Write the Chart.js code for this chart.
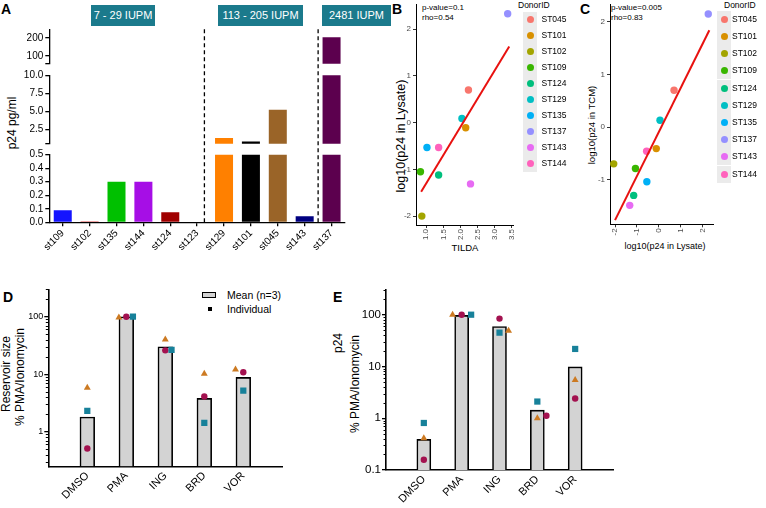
<!DOCTYPE html>
<html><head><meta charset="utf-8">
<script src="https://cdn.jsdelivr.net/npm/chart.js@4.4.1/dist/chart.umd.min.js"></script>
<style>
body{margin:0;background:#fff;}
#wrap{position:relative;width:766px;height:508px;overflow:hidden;background:#fff;font-family:"Liberation Sans",Arial,sans-serif;}
canvas{position:absolute;}
.t{position:absolute;white-space:nowrap;color:#000;line-height:1;}
.r{position:absolute;white-space:nowrap;color:#000;line-height:1;transform:translate(-50%,-50%) rotate(-90deg);}
.c{position:absolute;white-space:nowrap;color:#000;line-height:1;transform:translate(-50%,-50%);}
.box{position:absolute;background:#1b7a8c;color:#fff;font-size:11px;line-height:21px;height:21px;text-align:center;}
.pl{position:absolute;font-weight:bold;font-size:14px;line-height:1;}
</style></head><body><div id="wrap">
<div class="pl" style="left:1px;top:2px">A</div>
<div class="pl" style="left:392px;top:2px">B</div>
<div class="pl" style="left:580px;top:2px">C</div>
<div class="pl" style="left:3px;top:290px">D</div>
<div class="pl" style="left:333px;top:290px">E</div>
<div class="box" style="left:91px;top:5px;width:64px">7 - 29 IUPM</div>
<div class="box" style="left:218px;top:5px;width:85px">113 - 205 IUPM</div>
<div class="box" style="left:322px;top:5px;width:69px">2481 IUPM</div>
<div class="r" style="left:12px;top:123px;font-size:12px">p24 pg/ml</div>
<div class="t" style="left:422px;top:4px;font-size:8px">p-value=0.1</div>
<div class="t" style="left:422px;top:14px;font-size:8px">rho=0.54</div>
<div class="r" style="left:401px;top:136px;font-size:12.5px">log10(p24 in Lysate)</div>
<div class="c" style="left:465px;top:248px;font-size:9.5px">TILDA</div>
<div class="t" style="left:611px;top:4px;font-size:8px">p-value=0.005</div>
<div class="t" style="left:611px;top:14px;font-size:8px">rho=0.83</div>
<div class="r" style="left:592px;top:125px;font-size:9.5px">log10(p24 in TCM)</div>
<div class="c" style="left:665px;top:246px;font-size:9px">log10(p24 in Lysate)</div>
<div class="t" style="left:518px;top:1px;font-size:8.5px">DonorID</div>
<div class="t" style="left:724px;top:1px;font-size:8.5px">DonorID</div>
<div class="r" style="left:6px;top:374px;font-size:12px">Reservoir size</div>
<div class="r" style="left:20px;top:377px;font-size:12px">% PMA/Ionomycin</div>
<div class="r" style="left:338px;top:343px;font-size:12px">p24</div>
<div class="r" style="left:355px;top:384px;font-size:12px">% PMA/Ionomycin</div>
<div style="position:absolute;left:202px;top:292px;width:12px;height:4px;background:#d3d3d3;border:1.5px solid #000"></div>
<div class="t" style="left:227px;top:290px;font-size:10.5px">Mean (n=3)</div>
<div style="position:absolute;left:208px;top:307px;width:4px;height:4px;background:#000"></div>
<div class="t" style="left:227px;top:304px;font-size:10.5px">Individual</div>
</div>
<script>
// ---------- data ----------
const donorsA = ['st109','st102','st135','st144','st124','st123','st129','st101','st045','st143','st137'];
const p24A = [0.09,0.008,0.30,0.30,0.075,0,1.3,0.8,5.2,0.045,205];
const colorsA = ['#1414ff','#e04848','#00c000','#a60ee6','#a00000','#888888','#ff8000','#000000','#9a6428','#000080','#5c004e'];
const groupSeparators = [5.27, 9.5];
const aTicksLow = [0,0.1,0.2,0.3,0.4,0.5];
const aTicksMid = [0.5,2.5,5,7.5,10];
const aTicksTop = [55,100,200];

const donorIDs = ['ST045','ST101','ST102','ST109','ST124','ST129','ST135','ST137','ST143','ST144'];
const donorColors = ['#F8766D','#D89000','#A3A500','#39B600','#00BF7D','#00BFC4','#00B0F6','#9590FF','#E76BF3','#FF62BC'];
const tildaB  = [2.23,2.15,0.87,0.83,1.36,2.04,1.02,3.375,2.29,1.36];
const lysateB = [0.70,-0.11,-2.0,-1.05,-1.12,0.09,-0.53,2.33,-1.31,-0.53];
const fitBx = [0.85,3.42];
const fitBy = [-1.48,1.63];
const ticksBx = [1.0,1.5,2.0,2.5,3.0,3.5];
const ticksBy = [-2,-1,0,1,2];
const lysateC = [0.69,-0.12,-2.06,-1.07,-1.15,0.05,-0.55,2.25,-1.33,-0.56];
const tcmC    = [0.70,-0.41,-0.70,-0.79,-1.30,0.13,-1.04,2.15,-1.49,-0.46];
const fitCx = [-2.0,2.30];
const fitCy = [-1.77,1.84];
const ticksCx = [-2,-1,0,1,2];
const ticksCy = [-1,0,1,2];

const treatments = ['DMSO','PMA','ING','BRD','VOR'];
const meanD = [1.8,100,30,3.8,8.8];
const triD  = [5.8,97,40,10.2,12.1];
const circD = [0.51,100,26,4.1,10.8];
const sqD   = [2.3,100,26.6,1.42,5.2];
const dodgeTriD  = [0,-0.19,0,0,-0.2];
const dodgeCircD = [0,0,0,0,0];
const dodgeSqD   = [0,0.17,0.16,0,0];
const ticksDy = [1,10,100];
const meanE = [0.39,97,59,1.43,9.8];
const triE  = [0.41,100,49,1.0,5.5];
const circE = [0.158,100,84,1.12,2.4];
const sqE   = [0.81,100,45,2.1,21.8];
const dodgeTriE  = [0,-0.24,0.24,0,0];
const dodgeCircE = [0,0,0,0.24,0];
const dodgeSqE   = [0,0.25,0,0,0];
const ticksEy = [0.1,1,10,100];

// ---------- setup ----------
const FONT = '"Liberation Sans", Arial, sans-serif';
Chart.defaults.font.family = FONT;
Chart.defaults.color = '#000';
Chart.defaults.animation = false;
Chart.defaults.responsive = false;
Chart.defaults.plugins.legend.display = false;
Chart.defaults.plugins.tooltip.enabled = false;
const wrap = document.getElementById('wrap');
function mk(left, top, w, h){
  const c = document.createElement('canvas');
  c.width = w; c.height = h;
  c.style.left = left+'px'; c.style.top = top+'px';
  c.style.width = w+'px'; c.style.height = h+'px';
  wrap.appendChild(c);
  return c.getContext('2d');
}
const zeroPad = s => { s.paddingLeft = 0; s.paddingRight = 0; s.paddingTop = 0; s.paddingBottom = 0; };
const fixW = w => s => { s.width = w; zeroPad(s); };
const fixH = h => s => { s.height = h; zeroPad(s); };
const setTicks = arr => s => { s.ticks = arr.map(v => ({value: v})); };

// ---------- Panel A (broken axis: three stacked charts sharing one frame) ----------
const AW = 360, AH = 270;
function aChart(ctx, pad, yMin, yMax, tickVals, fmt, showX){
  const xOpt = { display: showX, offset: true,
     grid: { offset: false, drawOnChartArea: false, tickLength: 4, color: '#000', lineWidth: 1.3 },
     border: { color: '#000', width: 1.3 },
     ticks: { minRotation: 45, maxRotation: 45, autoSkip: false, font: { size: 10 }, color: '#000', padding: 1 } };
  if (showX) xOpt.afterFit = fixH(AH - 222.3);
  return new Chart(ctx, {
    type: 'bar',
    data: { labels: donorsA, datasets: [{ data: p24A, backgroundColor: colorsA, borderWidth: 0,
      barPercentage: 0.67, categoryPercentage: 1, clip: 0 }] },
    options: {
      layout: { padding: pad },
      scales: {
        x: xOpt,
        y: { min: yMin, max: yMax, afterBuildTicks: setTicks(tickVals),
             ticks: { autoSkip: false, font: { size: 10 }, color: '#000', padding: 2, callback: fmt },
             grid: { drawOnChartArea: false, tickLength: 4, color: '#000', lineWidth: 1.3 },
             border: { color: '#000', width: 1.3 },
             afterFit: fixW(49.3) }
      }
    },
    plugins: showX ? [sepPlugin] : []
  });
}
let chartATop = null;
const sepPlugin = { id: 'sep', afterDraw(chart){
  const xs = chart.scales.x, ctx = chart.ctx;
  const top = chartATop ? chartATop.chartArea.top : chart.chartArea.top;
  ctx.save(); ctx.strokeStyle = '#000'; ctx.lineWidth = 1.3; ctx.setLineDash([4,3]);
  for (const s of groupSeparators){
    const x = xs.getPixelForValue(s);
    ctx.beginPath(); ctx.moveTo(x, top); ctx.lineTo(x, chart.chartArea.bottom); ctx.stroke();
  }
  ctx.restore();
}};
chartATop = aChart(mk(0,0,AW,AH), {top:29.3, bottom:AH-63.8, left:0, right:15}, 55, 250, aTicksTop,
  v => (v === 55 ? '' : String(v)), false);
aChart(mk(0,0,AW,AH), {top:75.3, bottom:AH-143.7, left:0, right:15}, 0.5, 10, aTicksMid,
  v => (v === 0.5 ? '' : v.toFixed(1)), false);
aChart(mk(0,0,AW,AH), {top:154.7, bottom:0, left:0, right:15}, 0, 0.5, aTicksLow,
  v => v.toFixed(1), true);

// ---------- Panels B, C ----------
function scatterChart(ctx, pad, yW, xH, xs, ys, fx, fy, xr, yr, tx, ty, xfmt){
  const gg = { drawOnChartArea: false, tickLength: 3, color: '#333', lineWidth: 1 };
  return new Chart(ctx, {
    type: 'scatter',
    data: { datasets: [
      { type: 'line', data: fx.map((x,i) => ({x, y: fy[i]})), borderColor: '#e8110f', borderWidth: 2,
        pointRadius: 0, fill: false, clip: false },
      { data: xs.map((x,i) => ({x, y: ys[i]})), pointBackgroundColor: donorColors, pointBorderWidth: 0, pointRadius: 3.7 }
    ]},
    options: {
      layout: { padding: pad },
      scales: {
        x: { type: 'linear', min: xr[0], max: xr[1], afterBuildTicks: setTicks(tx),
             ticks: { autoSkip: false, callback: xfmt, minRotation: 90, maxRotation: 90, font: { size: 8 }, color: '#4d4d4d', padding: 1 },
             grid: gg, border: { color: '#000', width: 1 }, afterFit: fixH(xH) },
        y: { type: 'linear', min: yr[0], max: yr[1], afterBuildTicks: setTicks(ty),
             ticks: { autoSkip: false, callback: v => String(v), font: { size: 8 }, color: '#4d4d4d', padding: 2 },
             grid: gg, border: { color: '#000', width: 1 }, afterFit: fixW(yW) }
      }
    }
  });
}
scatterChart(mk(380,0,140,250), {top:1.7, right:7, bottom:0, left:0}, 36, 25,
  tildaB, lysateB, fitBx, fitBy, [0.70,3.53], [-2.19,2.54], ticksBx, ticksBy, v => v.toFixed(1));
scatterChart(mk(570,0,150,250), {top:1, right:6.7, bottom:0, left:0}, 40, 25.7,
  lysateC, tcmC, fitCx, fitCy, [-2.23,2.48], [-1.85,2.34], ticksCx, ticksCy, v => String(v));

// legends B, C (DonorID)
function legend(left, top, step, textLeft){
  donorIDs.forEach((d,i) => {
    const y = top + i*step;
    const k = document.createElement('div');
    k.style.cssText = `position:absolute;left:${left}px;top:${y}px;width:14px;height:${step}px;background:#ebebeb;`;
    const dot = document.createElement('div');
    dot.style.cssText = `position:absolute;left:3.5px;top:${step/2-3.5}px;width:7px;height:7px;border-radius:50%;background:${donorColors[i]};`;
    k.appendChild(dot); wrap.appendChild(k);
    const t = document.createElement('div');
    t.className = 't'; t.textContent = d;
    t.style.cssText += `left:${textLeft}px;top:${y + step/2 - 4.5}px;font-size:8.5px;`;
    wrap.appendChild(t);
  });
}
legend(523, 11.5, 16, 541.5);
legend(717, 10.7, 17.2, 732);

// ---------- Panels D, E ----------
const minorPlugin = { id: 'minor', afterDraw(chart){
  const ys = chart.scales.y, ctx = chart.ctx, x = chart.chartArea.left;
  ctx.save(); ctx.strokeStyle = '#000'; ctx.lineWidth = 1;
  const e0 = Math.floor(Math.log10(ys.min)), e1 = Math.ceil(Math.log10(ys.max));
  for (let e = e0; e <= e1; e++) for (let m = 2; m <= 9; m++){
    const v = m * Math.pow(10, e);
    if (v < ys.min * 0.999 || v > ys.max * 1.001) continue;
    const y = Math.round(ys.getPixelForValue(v)) + 0.5;
    ctx.beginPath(); ctx.moveTo(x - 2.5, y); ctx.lineTo(x, y); ctx.stroke();
  }
  ctx.restore();
}};
const triColor = '#cc7a22', circColor = '#a3114f', sqColor = '#17819a';
function barDotChart(ctx, pad, yW, xH, mean, tri, circ, sq, dT, dC, dS, yMin, yMax, yT, yFont, barW){
  const pts = (vals, dodge) => treatments.map((t,i) => ({x: i+1+dodge[i], y: vals[i]}));
  return new Chart(ctx, {
    type: 'bar',
    data: { datasets: [
      { type: 'scatter', data: pts(sq, dS), pointStyle: 'rect', pointRadius: 4.4, pointBackgroundColor: sqColor, pointBorderWidth: 0 },
      { type: 'scatter', data: pts(circ, dC), pointStyle: 'circle', pointRadius: 3.2, pointBackgroundColor: circColor, pointBorderWidth: 0 },
      { type: 'scatter', data: pts(tri, dT), pointStyle: 'triangle', pointRadius: 4, pointBackgroundColor: triColor, pointBorderWidth: 0 },
      { type: 'bar', data: treatments.map((t,i) => ({x: i+1, y: mean[i]})), backgroundColor: '#d3d3d3',
        borderColor: '#000', borderWidth: 1.6, barThickness: barW }
    ]},
    options: {
      layout: { padding: pad },
      scales: {
        x: { type: 'linear', min: 0, max: treatments.length + 1, offset: false,
             afterBuildTicks: s => { s.ticks = treatments.map((t,i) => ({value: i+1})); },
             ticks: { callback: v => treatments[v-1], minRotation: 45, maxRotation: 45, autoSkip: false,
                      font: { size: 11 }, color: '#000', padding: 3 },
             grid: { drawOnChartArea: false, drawTicks: false },
             border: { color: '#000', width: 1.6 }, afterFit: fixH(xH) },
        y: { type: 'logarithmic', min: yMin, max: yMax, afterBuildTicks: setTicks(yT),
             ticks: { autoSkip: false, callback: v => String(v), font: { size: yFont }, color: '#000', padding: 1 },
             grid: { drawOnChartArea: false, tickLength: 4, color: '#000', lineWidth: 1.3 },
             border: { color: '#000', width: 1.6 }, afterFit: fixW(yW) }
      }
    },
    plugins: [minorPlugin]
  });
}
barDotChart(mk(0,280,300,228), {top:9.3, right:17.7, bottom:0, left:0}, 48.3, 41.7,
  meanD, triD, circD, sqD, dodgeTriD, dodgeCircD, dodgeSqD, 0.25, 300, ticksDy, 9, 14.7);
barDotChart(mk(340,280,300,228), {top:10, right:27, bottom:0, left:0}, 46, 38,
  meanE, triE, circE, sqE, dodgeTriE, dodgeCircE, dodgeSqE, 0.1, 300, ticksEy, 11.5, 14);
</script></body></html>
